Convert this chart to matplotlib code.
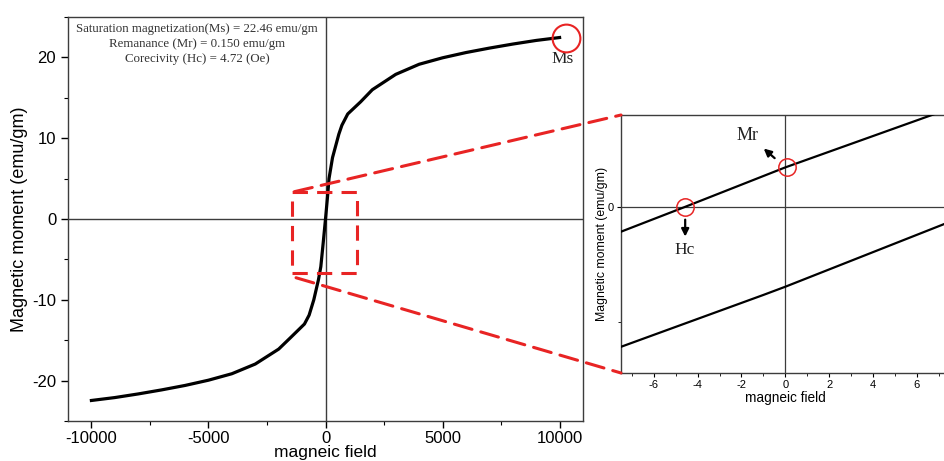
import matplotlib
matplotlib.use("Agg")
import matplotlib.pyplot as plt
from matplotlib.patches import Rectangle, ConnectionPatch
from matplotlib.ticker import MultipleLocator, FixedLocator

# ---------------- data ----------------
field = [-10000, -9000, -8000, -7000, -6000, -5000, -4000, -3000, -2000, -1500,
         -900, -700, -500, -300, -200, -100, 0, 100, 150, 300, 570, 700, 950,
         1500, 2000, 3000, 4000, 5000, 6000, 7000, 8000, 9000, 10000]
moment = [-22.46, -22.1, -21.65, -21.15, -20.6, -19.95, -19.15, -17.95, -16.1, -14.7,
          -13.0, -11.9, -10.0, -7.5, -5.9, -3.0, 0.0, 3.2, 5.0, 7.6, 10.5, 11.6, 13.0,
          14.5, 16.0, 17.9, 19.15, 19.95, 20.6, 21.15, 21.65, 22.1, 22.46]

# zoomed inset: two branches of the loop
inset_field_upper = [-7.5, -4.6, 0.0, 7.5]
inset_moment_upper = [-0.093, 0.0, 0.150, 0.372]
inset_field_lower = [-7.5, -1.0, 0.0, 7.5]
inset_moment_lower = [-0.528, -0.332, -0.301, -0.056]

ms_point = (10258, 22.45)
hc_point = (-4.57, 0.0)
mr_point = (0.09, 0.150)

zoom_box_x = (-1429, 1343)
zoom_box_y = (-6.65, 3.38)
connector_starts = [(-1330, 3.38), (-1258, -7.27)]

info_lines = ["Saturation magnetization(Ms) = 22.46 emu/gm",
              "Remanance (Mr) = 0.150 emu/gm",
              "Corecivity (Hc) = 4.72 (Oe)"]

main_xticks = [-10000, -5000, 0, 5000, 10000]
main_yticks = [-20, -10, 0, 10, 20]
inset_xticks = [-6, -4, -2, 0, 2, 4, 6]

# ---------------- style ----------------
sans = ["Liberation Sans", "DejaVu Sans"]
serif = ["Liberation Serif", "DejaVu Serif"]
red = "#e82424"
gray = "#3c3c3c"
plt.rcParams["font.family"] = sans
plt.rcParams["axes.unicode_minus"] = False

fig = plt.figure(figsize=(9.44, 4.61), dpi=100)
W, H = 944, 461

def ax_rect(l, t, r, b):
    return [l / W, 1 - b / H, (r - l) / W, (b - t) / H]

ax = fig.add_axes(ax_rect(68, 17, 583, 421))
ax.plot(field, moment, color="black", lw=2.3, solid_joinstyle="round", zorder=3)
ax.axhline(0, color=gray, lw=1.0, zorder=1)
ax.axvline(0, color=gray, lw=1.0, zorder=1)
ax.set_xlim(-11000, 11000)
ax.set_ylim(-25, 25)
ax.set_xticks(main_xticks)
ax.set_yticks(main_yticks)
ax.xaxis.set_minor_locator(MultipleLocator(2500))
ax.yaxis.set_minor_locator(MultipleLocator(5))
ax.tick_params(which="major", direction="out", length=5, width=1, labelsize=12, colors="black")
ax.tick_params(axis="x", which="major", pad=2.5)
ax.tick_params(which="minor", direction="out", length=3, width=0.8)
for s in ax.spines.values():
    s.set_color(gray)
    s.set_linewidth(1.0)
ax.set_xlabel("magneic field", fontsize=12.5, labelpad=-1)
ax.set_ylabel("Magnetic moment (emu/gm)", fontsize=13, labelpad=3)

ax.text(-5494, 24.3, "\n".join(info_lines), family=serif, fontsize=9.3, color="#333333",
        ha="center", va="top", linespacing=1.38)
ax.plot([ms_point[0]], [ms_point[1]], marker="o", ms=20, mfc="none", mec=red, mew=1.5,
        clip_on=False, zorder=4)
ax.text(10142, 19.8, "Ms", family=serif, fontsize=12.5, color="#222222", ha="center", va="center")

ax.add_patch(Rectangle((zoom_box_x[0], zoom_box_y[0]), zoom_box_x[1] - zoom_box_x[0],
                       zoom_box_y[1] - zoom_box_y[0], fill=False, edgecolor=red, lw=2.2,
                       linestyle=(0, (5, 3)), zorder=5))

# ---------------- inset ----------------
axi = fig.add_axes(ax_rect(621, 115, 949.6, 373))
axi.plot(inset_field_upper, inset_moment_upper, color="black", lw=1.6, zorder=3)
axi.plot(inset_field_lower, inset_moment_lower, color="black", lw=1.6, zorder=3)
axi.axhline(0, color=gray, lw=0.9, zorder=1)
axi.axvline(0, color=gray, lw=0.9, zorder=1)
axi.set_xlim(-7.5, 7.5)
axi.set_ylim(-0.627, 0.348)
axi.set_xticks(inset_xticks)
axi.xaxis.set_minor_locator(MultipleLocator(1))
axi.set_yticks([0])
axi.yaxis.set_minor_locator(FixedLocator([-0.433]))
axi.tick_params(which="major", direction="out", length=3, width=0.8, labelsize=8, pad=2)
axi.tick_params(which="minor", direction="out", length=2, width=0.6)
for s in axi.spines.values():
    s.set_color(gray)
    s.set_linewidth(1.0)
axi.set_xlabel("magneic field", fontsize=9.8, labelpad=1)
axi.set_ylabel("Magnetic moment (emu/gm)", fontsize=8.8, labelpad=0)

for pt in (hc_point, mr_point):
    axi.plot([pt[0]], [pt[1]], marker="o", ms=12.5, mfc="none", mec=red, mew=1.1, zorder=4)

axi.annotate("", xy=(-1.08, 0.228), xytext=(-0.39, 0.178),
             arrowprops=dict(arrowstyle="-|>", color="black", lw=1.6, mutation_scale=11))
axi.text(-1.72, 0.272, "Mr", family=serif, fontsize=13, color="#222222", ha="center", va="center")
axi.annotate("", xy=(-4.57, -0.122), xytext=(-4.57, -0.037),
             arrowprops=dict(arrowstyle="-|>", color="black", lw=1.6, mutation_scale=11))
axi.text(-4.6, -0.162, "Hc", family=serif, fontsize=12.5, color="#222222", ha="center", va="center")

# connectors
for start, corner in zip(connector_starts, [(0, 1), (0, 0)]):
    cp = ConnectionPatch(xyA=start, coordsA=ax.transData, xyB=corner, coordsB=axi.transAxes,
                         color=red, lw=2.2, linestyle=(0, (6, 3)), zorder=6)
    fig.add_artist(cp)

fig.savefig("out.png", dpi=100)
